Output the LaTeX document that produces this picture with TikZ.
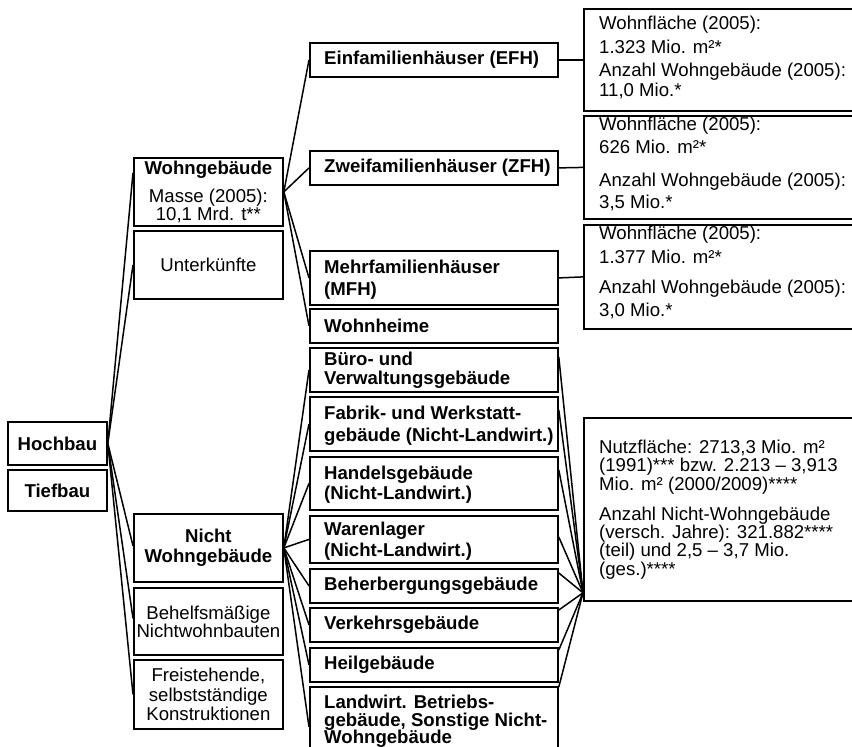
\documentclass[tikz,border=0pt]{standalone}
\usepackage{fontspec}
\setmainfont{Liberation Sans}
% font size 18.6pt with a chosen baselineskip
\newcommand\lsz[1]{\fontsize{18.6pt}{#1pt}\selectfont}
\tikzset{
  box/.style={draw, line width=1.8pt, fill=white, anchor=north west, inner sep=0pt, align=center},
  lbl/.style={inner sep=0pt, align=left, anchor=west},
  info/.style={inner sep=0pt, align=left, anchor=north west},
  link/.style={line width=1.5pt},
}
\begin{document}
\begin{tikzpicture}[x=1pt,y=-1pt]
\useasboundingbox (0,0) rectangle (852,747);
\clip (0,0) rectangle (852,747);

% level 1
\node[box, minimum width=99pt, minimum height=43pt, font=\lsz{20}\bfseries] (hoch) at (7,421) {Hochbau};
\node[box, minimum width=99pt, minimum height=41pt, font=\lsz{20}\bfseries] (tief) at (7,469) {Tiefbau};

% level 2
\node[box, minimum width=149pt, minimum height=68pt, font=\lsz{17.6}] (wohn) at (133,157)
  {\textbf{Wohngebäude}\\[10.7pt]Masse (2005):\\10,1 Mrd. t**};
\node[box, minimum width=149pt, minimum height=68pt, font=\lsz{20}] (unter) at (133,230) {Unterkünfte};
\node[box, minimum width=149pt, minimum height=68pt, font=\lsz{20}\bfseries] (nichtw) at (133,513) {Nicht\\Wohngebäude};
\node[box, minimum width=149pt, minimum height=67pt, font=\lsz{18}] (behelf) at (133,587) {Behelfsmäßige\\Nichtwohnbauten};
\node[box, minimum width=149pt, minimum height=69pt, font=\lsz{19.5}] (frei) at (133,659) {Freistehende,\\selbstständige\\Konstruktionen};

% level 3: residential types
\node[box, minimum width=248pt, minimum height=34pt] (efh) at (309,42) {};
\node[box, minimum width=248pt, minimum height=34pt] (zfh) at (309,150) {};
\node[box, minimum width=248pt, minimum height=54pt] (mfh) at (309,250) {};
\node[box, minimum width=248pt, minimum height=34pt] (heim) at (309,308) {};
% level 3: non-residential types
\node[box, minimum width=248pt, minimum height=44pt] (buero) at (309,347) {};
\node[box, minimum width=248pt, minimum height=54pt] (fabrik) at (309,396) {};
\node[box, minimum width=248pt, minimum height=53pt] (handel) at (309,456) {};
\node[box, minimum width=248pt, minimum height=47pt] (lager) at (309,515) {};
\node[box, minimum width=248pt, minimum height=34pt] (beher) at (309,568) {};
\node[box, minimum width=248pt, minimum height=34pt] (verkehr) at (309,607) {};
\node[box, minimum width=248pt, minimum height=34pt] (heil) at (309,647) {};
\node[box, minimum width=248pt, minimum height=80pt] (landw) at (309,686) {};

\node[lbl, font=\lsz{20}\bfseries] (efh-t) at ([xshift=15pt]efh.west) {Einfamilienhäuser (EFH)};
\node[lbl, font=\lsz{20}\bfseries] (zfh-t) at ([xshift=15pt]zfh.west) {Zweifamilienhäuser (ZFH)};
\node[lbl, font=\lsz{22}\bfseries] (mfh-t) at ([xshift=15pt,yshift=-1.5pt]mfh.west) {Mehrfamilienhäuser\\(MFH)};
\node[lbl, font=\lsz{20}\bfseries] (heim-t) at ([xshift=15pt]heim.west) {Wohnheime};
\node[lbl, font=\lsz{19}\bfseries] (buero-t) at ([xshift=15pt]buero.west) {Büro- und\\Verwaltungsgebäude};
\node[lbl, font=\lsz{22}\bfseries] (fabrik-t) at ([xshift=15pt,yshift=-1.5pt]fabrik.west) {Fabrik- und Werkstatt-\\gebäude (Nicht-Landwirt.)};
\node[lbl, font=\lsz{20}\bfseries] (handel-t) at ([xshift=15pt,yshift=-1.5pt]handel.west) {Handelsgebäude\\(Nicht-Landwirt.)};
\node[lbl, font=\lsz{21}\bfseries] (lager-t) at ([xshift=15pt,yshift=-1.5pt]lager.west) {Warenlager\\(Nicht-Landwirt.)};
\node[lbl, font=\lsz{20}\bfseries] (beher-t) at ([xshift=15pt]beher.west) {Beherbergungsgebäude};
\node[lbl, font=\lsz{20}\bfseries] (verkehr-t) at ([xshift=15pt]verkehr.west) {Verkehrsgebäude};
\node[lbl, font=\lsz{20}\bfseries] (heil-t) at ([xshift=15pt]heil.west) {Heilgebäude};
\node[info, font=\lsz{17.5}\bfseries] (landw-t) at (324,695) {Landwirt. Betriebs-\\gebäude, Sonstige Nicht-\\Wohngebäude};

% level 4: figures
\node[box, minimum width=269pt, minimum height=102pt] (i1) at (583,8) {};
\node[box, minimum width=269pt, minimum height=103pt] (i2) at (583,115) {};
\node[box, minimum width=269pt, minimum height=104pt] (i3) at (583,224) {};
\node[box, minimum width=269pt, minimum height=183pt] (i4) at (583,417) {};

\node[info, font=\lsz{20}] (i1-t) at (599,16)
  {Wohnfläche (2005):\\[4pt]1.323 Mio. m²*\\[3pt]Anzahl Wohngebäude (2005):\\11,0 Mio.*};
\node[info, font=\lsz{20}] (i2-t) at (599,117)
  {Wohnfläche (2005):\\[3pt]626 Mio. m²*\\[13pt]Anzahl Wohngebäude (2005):\\[2pt]3,5 Mio.*};
\node[info, font=\lsz{20}] (i3-t) at (599,226)
  {Wohnfläche (2005):\\[4pt]1.377 Mio. m²*\\[10pt]Anzahl Wohngebäude (2005):\\[3pt]3,0 Mio.*};
\node[info, font=\lsz{18.3}] (i4-t) at (599,440)
  {Nutzfläche: 2713,3 Mio. m²\\(1991)*** bzw. 2.213 – 3,913\\Mio. m² (2000/2009)****\\[11.7pt]%
   Anzahl Nicht-Wohngebäude\\(versch. Jahre): 321.882****\\(teil) und 2,5 – 3,7 Mio.\\(ges.)****};

% connectors
\draw[link] (hoch.east) -- ([yshift=19pt]wohn.west);
\draw[link] (hoch.east) -- (unter.west);
\draw[link] (hoch.east) -- ([yshift=2pt]nichtw.west);
\draw[link] (hoch.east) -- ([yshift=3pt]behelf.west);
\draw[link] (hoch.east) -- (frei.west);

\foreach \n in {efh,zfh,mfh,heim}
  \draw[link] (wohn.east) -- (\n.west);
\foreach \n in {buero,fabrik,handel,lager,beher,verkehr,heil,landw}
  \draw[link] (nichtw.east) -- (\n.west);

\draw[link] (efh.east) -- (i1.west);
\draw[link] (zfh.east) -- (i2.west);
\draw[link] (mfh.east) -- (i3.west);

\coordinate (fan) at ([yshift=9pt]i4.south west);
\foreach \n/\d in {buero/10,fabrik/14,handel/14,lager/22,beher/5,verkehr/3,heil/3,landw/1}
  \draw[link] ([yshift=-\d pt]\n.north east) -- (fan);
\end{tikzpicture}
\end{document}
